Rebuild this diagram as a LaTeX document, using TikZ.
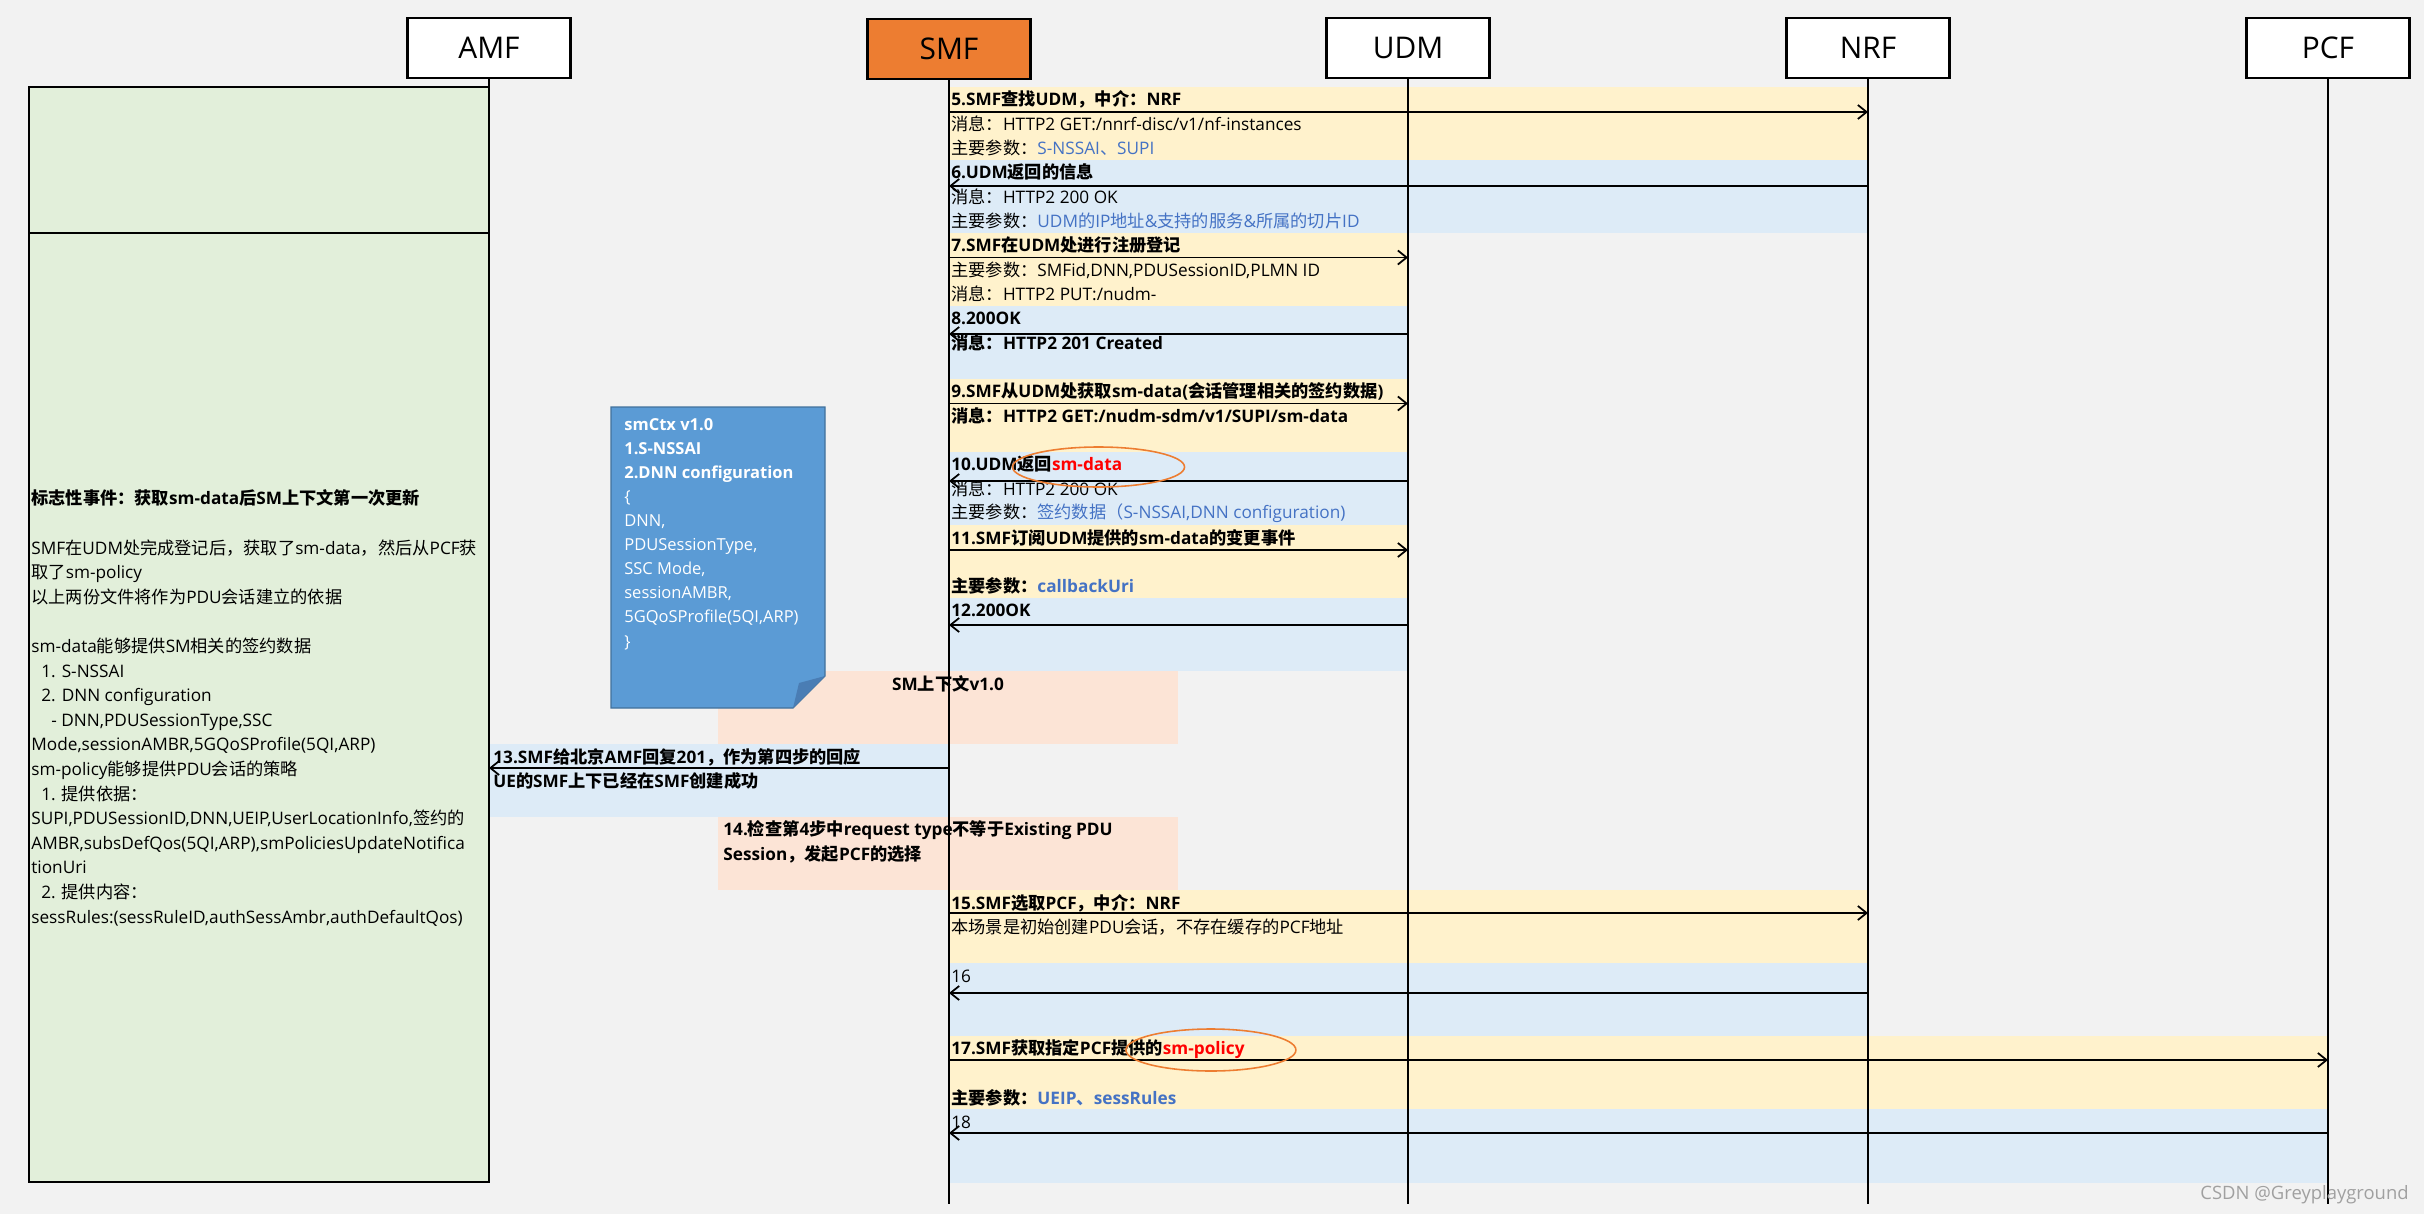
\documentclass[tikz,border=0pt]{standalone}
\usepackage{fontspec}
\usepackage{xcolor}
\usepackage{tikz}
\usetikzlibrary{arrows.meta}

\setmainfont{Open Sans}
\newfontfamily\cjk{Noto Sans CJK SC}
\XeTeXinterchartokenstate=1
\chardef\hanclass=9
\newcount\hanidx
\def\sethan#1#2{\hanidx=#1 \loop\ifnum\hanidx<#2 \XeTeXcharclass\hanidx=\hanclass \advance\hanidx by 1 \repeat}
\sethan{"3000}{"3040}
\sethan{"4E00}{"A000}
\sethan{"FF00}{"FFF0}
\XeTeXinterchartoks 0 \hanclass = {\cjk}
\XeTeXinterchartoks 4095 \hanclass = {\cjk}
\XeTeXinterchartoks \hanclass 0 = {\rmfamily}
\XeTeXinterchartoks \hanclass 4095 = {\rmfamily}

\definecolor{bgc}{HTML}{F2F2F2}
\definecolor{yband}{HTML}{FFF2CC}
\definecolor{bband}{HTML}{DDEBF7}
\definecolor{sband}{HTML}{FCE4D6}
\definecolor{gband}{HTML}{E2EFDA}
\definecolor{smfor}{HTML}{ED7D31}
\definecolor{pblue}{HTML}{4472C4}
\definecolor{noteb}{HTML}{5B9BD5}
\definecolor{notedk}{HTML}{41719C}
\definecolor{notefold}{HTML}{4A7DB4}
\definecolor{hil}{HTML}{ED7D31}
\definecolor{wmark}{HTML}{A0A0A0}

\begin{document}
\begin{tikzpicture}[
  x=0.02cm, y=-0.02cm,
  font=\fontsize{9.8}{11.5}\selectfont,
  nf/.style={draw, line width=1.2pt, fill=white, minimum width=3.26cm,
    minimum height=1.2cm, inner sep=0pt, font=\fontsize{17}{20}\selectfont},
  life/.style={line width=0.9pt},
  msg/.style={line width=1pt, -{Straight Barb[length=5pt,width=8pt]}},
  txt/.style={anchor=west, inner sep=0pt},
  hd/.style={txt, font=\fontsize{9.8}{11.5}\selectfont\bfseries},
  ring/.style={draw=hil, line width=0.9pt},
]

\fill[bgc] (0,0) rectangle (2424,1214);

\fill[yband] (949,87) rectangle (1868,160);
\fill[bband] (949,160) rectangle (1868,233);
\fill[yband] (949,233) rectangle (1408,306);
\fill[bband] (949,306) rectangle (1408,379);
\fill[yband] (949,379) rectangle (1408,452);
\fill[bband] (949,452) rectangle (1408,525);
\fill[yband] (949,525) rectangle (1408,598);
\fill[bband] (949,598) rectangle (1408,671);
\fill[sband] (718,671) rectangle (1178,744);
\fill[bband] (489,744) rectangle (949,817);
\fill[sband] (718,817) rectangle (1178,890);
\fill[yband] (949,890) rectangle (1868,963);
\fill[bband] (949,963) rectangle (1868,1036);
\fill[yband] (949,1036) rectangle (2328,1109);
\fill[bband] (949,1109) rectangle (2328,1183);

\draw[fill=gband, line width=0.6pt] (29,87) rectangle (489,1182);
\draw[line width=0.6pt] (29,233) -- (489,233);

\draw[fill=noteb, draw=notedk, line width=0.6pt]
  (611,407) -- (825,407) -- (825,676) -- (793,708) -- (611,708) -- cycle;
\fill[notefold] (793,708) -- (799,683) -- (825,676) -- cycle;

\node[nf] (amf) at (489,48) {AMF};
\node[nf, fill=smfor] (smf) at (949,49) {SMF};
\node[nf] (udm) at (1408,48) {UDM};
\node[nf] (nrf) at (1868,48) {NRF};
\node[nf] (pcf) at (2328,48) {PCF};

\coordinate (bot) at (0,1204);
\coordinate (gbot) at (0,1182);
\draw[life] (amf) -- (amf |- gbot);
\foreach \n in {smf,udm,nrf,pcf}
  \draw[life] (\n) -- (\n |- bot);

\draw[msg] (smf |- 0,112) -- (nrf |- 0,112);
\draw[msg] (nrf |- 0,186) -- (smf |- 0,186);
\draw[msg] (smf |- 0,257.5) -- (udm |- 0,257.5);
\draw[msg] (udm |- 0,334) -- (smf |- 0,334);
\draw[msg] (smf |- 0,403.5) -- (udm |- 0,403.5);
\draw[msg] (udm |- 0,481) -- (smf |- 0,481);
\draw[msg] (smf |- 0,550) -- (udm |- 0,550);
\draw[msg] (udm |- 0,625) -- (smf |- 0,625);
\draw[msg] (smf |- 0,768) -- (amf |- 0,768);
\draw[msg] (smf |- 0,913) -- (nrf |- 0,913);
\draw[msg] (nrf |- 0,993) -- (smf |- 0,993);
\draw[msg] (smf |- 0,1060) -- (pcf |- 0,1060);
\draw[msg] (pcf |- 0,1133) -- (smf |- 0,1133);

\node[hd] (t5) at (951,99) {5.SMF查找UDM，中介：NRF};
\node[txt] (m5) at (951,123.5) {消息：HTTP2 GET:/nnrf-disc/v1/nf-instances};
\node[txt] (p5) at (951,148) {主要参数：{\color{pblue}S-NSSAI、SUPI}};

\node[hd] (t6) at (951,172) {6.UDM返回的信息};
\node[txt] (m6) at (951,197) {消息：HTTP2 200 OK};
\node[txt] (p6) at (951,221) {主要参数：{\color{pblue}UDM的IP地址\&支持的服务\&所属的切片ID}};

\node[hd] (t7) at (951,245) {7.SMF在UDM处进行注册登记};
\node[txt] (p7) at (951,270) {主要参数：SMFid,DNN,PDUSessionID,PLMN ID};
\node[txt] (m7) at (951,294) {消息：HTTP2 PUT:/nudm-};

\node[hd] (t8) at (951,318) {8.200OK};
\node[hd] (m8) at (951,343) {消息：HTTP2 201 Created};

\node[hd] (t9) at (951,391) {9.SMF从UDM处获取sm-data(会话管理相关的签约数据)};
\node[hd] (m9) at (951,416) {消息：HTTP2 GET:/nudm-sdm/v1/SUPI/sm-data};

\node[hd] (t10) at (951,464.5) {10.UDM返回{\color{red}sm-data}};
\node[txt] (m10) at (951,489) {消息：HTTP2 200 OK};
\node[txt] (p10) at (951,513) {主要参数：{\color{pblue}签约数据（S-NSSAI,DNN configuration)}};

\node[hd] (t11) at (951,537.5) {11.SMF订阅UDM提供的sm-data的变更事件};
\node[hd] (p11) at (951,586) {主要参数：{\color{pblue}callbackUri}};

\node[hd] (t12) at (951,610.5) {12.200OK};

\node[hd, anchor=center] (smctx) at (948,684) {SM上下文v1.0};

\node[hd] (t13) at (493,757) {13.SMF给北京AMF回复201，作为第四步的回应};
\node[hd] (u13) at (493,781) {UE的SMF上下已经在SMF创建成功};

\node[hd] (t14) at (723,830) {14.检查第4步中request type不等于Existing PDU};
\node[hd] (u14) at (723,854) {Session，发起PCF的选择};

\node[hd] (t15) at (951,903) {15.SMF选取PCF，中介：NRF};
\node[txt] (u15) at (951,927) {本场景是初始创建PDU会话，不存在缓存的PCF地址};

\node[txt] (t16) at (951,976) {16};

\node[hd] (t17) at (951,1049) {17.SMF获取指定PCF提供的{\color{red}sm-policy}};
\node[hd] (p17) at (951,1098) {主要参数：{\color{pblue}UEIP、sessRules}};

\node[txt] (t18) at (951,1122) {18};

\draw[ring] ([xshift=-0.48cm,yshift=-0.05cm]t10.east) ellipse [x radius=86, y radius=20];
\draw[ring] ([xshift=-0.68cm,yshift=-0.02cm]t17.east) ellipse [x radius=85, y radius=21];

\node[txt, align=left, text=white, font=\fontsize{9.4}{13.7}\selectfont] (ctx) at (624,534)
  {\textbf{smCtx v1.0}\\ \textbf{1.S-NSSAI}\\ \textbf{2.DNN configuration}\\
   \{\\ DNN,\\ PDUSessionType,\\ SSC Mode,\\ sessionAMBR,\\
   5GQoSProfile(5QI,ARP)\\ \}};

\node[txt, align=left, font=\fontsize{9.8}{14}\selectfont] (event) at (31,708)
  {{\bfseries 标志性事件：获取sm-data后SM上下文第一次更新}\\
   ~\\
   SMF在UDM处完成登记后，获取了sm-data，然后从PCF获\\
   取了sm-policy\\
   以上两份文件将作为PDU会话建立的依据\\
   ~\\
   sm-data能够提供SM相关的签约数据\\
   \hspace*{5.7pt}1. S-NSSAI\\
   \hspace*{5.7pt}2. DNN configuration\\
   \hspace*{11.4pt}- DNN,PDUSessionType,SSC\\
   Mode,sessionAMBR,5GQoSProfile(5QI,ARP)\\
   sm-policy能够提供PDU会话的策略\\
   \hspace*{5.7pt}1. 提供依据：\\
   SUPI,PDUSessionID,DNN,UEIP,UserLocationInfo,签约的\\
   AMBR,subsDefQos(5QI,ARP),smPoliciesUpdateNotifica\\
   tionUri\\
   \hspace*{5.7pt}2. 提供内容：\\
   sessRules:(sessRuleID,authSessAmbr,authDefaultQos)};

\node[anchor=east, inner sep=0pt, text=wmark, font=\fontsize{10.5}{13}\selectfont] (wm)
  at (2409,1195) {CSDN @Greyplayground};

\end{tikzpicture}
\end{document}
